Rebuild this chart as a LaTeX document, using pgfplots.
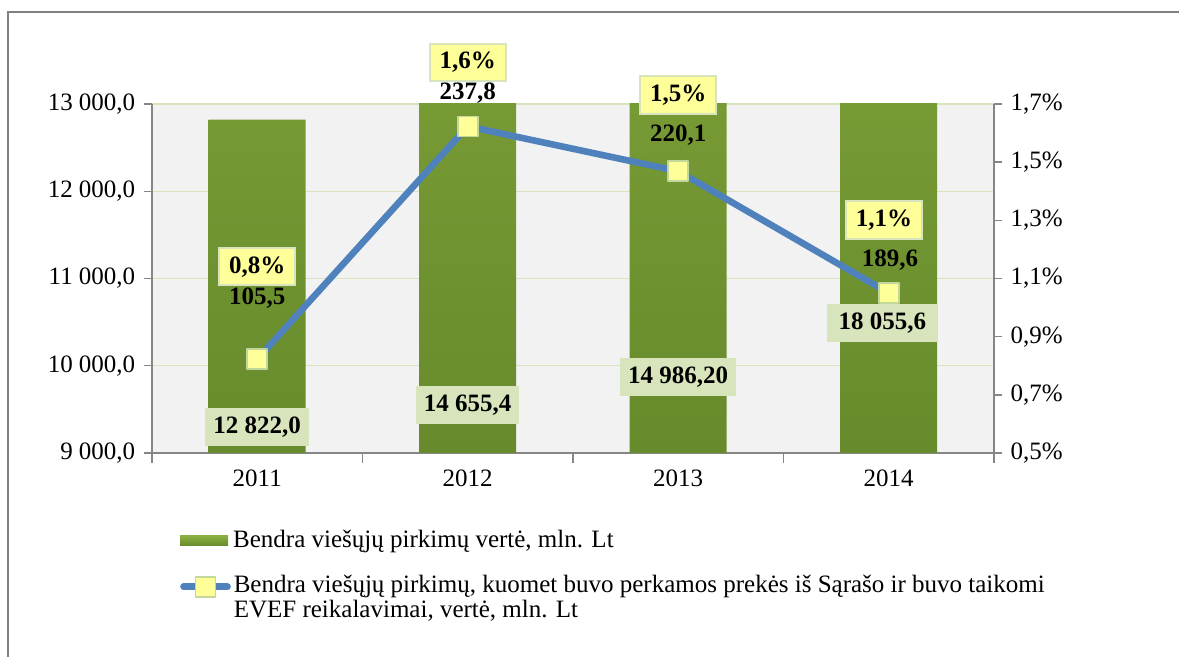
\documentclass[border=0pt]{standalone}
\usepackage{pgfplots}
\pgfplotsset{compat=1.18}
\usepackage{fontspec}
\setmainfont{Liberation Serif}
\definecolor{bggray}{HTML}{F2F2F2}
\definecolor{gridgreen}{HTML}{D7E4BD}
\definecolor{axisgray}{HTML}{868686}
\definecolor{lineblue}{HTML}{4F81BD}
\definecolor{markyellow}{HTML}{FFFF99}
\definecolor{markedge}{HTML}{C3D69B}
\definecolor{labelgreen}{HTML}{D8E4BC}
\definecolor{bartop}{HTML}{8AAE3F}
\definecolor{barbot}{HTML}{678A2C}
\definecolor{framegray}{HTML}{808080}
\begin{document}
\fontsize{12.5}{12.5}\selectfont
\begin{tikzpicture}
\useasboundingbox (0,0) rectangle (589.5pt,328.5pt);
\draw[framegray, line width=1pt] (4pt,0) -- (4pt,322.5pt) -- (589.5pt,322.5pt);

\begin{axis}[
  at={(76pt,102pt)}, anchor=south west,
  scale only axis, width=421pt, height=174.5pt,
  xmin=-0.5, xmax=3.5, ymin=9000, ymax=13000,
  scaled y ticks=false,
  axis x line*=bottom, axis y line*=left,
  axis line style={axisgray, line width=0.7pt},
  axis background/.style={fill=bggray},
  ytick={9000,10000,11000,12000,13000},
  yticklabels={{9 000,0},{10 000,0},{11 000,0},{12 000,0},{13 000,0}},
  ymajorgrids, grid style={gridgreen, line width=0.7pt},
  xtick={0,1,2,3}, xticklabels={2011,2012,2013,2014},
  minor xtick={-0.5,0.5,1.5,2.5,3.5},
  tick align=outside,
  major x tick style={draw=none},
  minor x tick style={axisgray, line width=0.7pt},
  minor tick length=5pt,
  y tick style={axisgray, line width=0.7pt},
  major tick length=4pt,
  legend style={at={(axis description cs:0.033,-0.2521)}, anchor=west,
    draw=none, fill=none, inner sep=0pt, nodes={inner sep=0pt},
    cells={anchor=west},
    /tikz/every odd column/.append style={column sep=2.5pt}},
]
\addplot[ybar, bar width=48.5pt, draw=none, top color=bartop, bottom color=barbot,
  legend image code/.code={
    \fill[top color=bartop, bottom color=barbot] (0pt,-2.5pt) rectangle (24pt,2.5pt);}]
  coordinates {(0,12822.0) (1,14655.4) (2,14986.2) (3,18055.6)};
\addlegendentry{Bendra viešųjų pirkimų vertė, mln. Lt}
\node[fill=labelgreen, font=\bfseries, inner xsep=4pt, minimum height=15pt] at (axis cs:0,9298) {12 822,0};
\node[fill=labelgreen, font=\bfseries, inner xsep=4pt, minimum height=15pt] at (axis cs:1,9550) {14 655,4};
\node[fill=labelgreen, font=\bfseries, inner xsep=4pt, minimum height=15pt] at (axis cs:2,9871) {14 986,20};
\node[fill=labelgreen, font=\bfseries, inner xsep=6pt, minimum height=15pt] at (axis cs:2.97,10490) {18 055,6};
\end{axis}

\begin{axis}[
  at={(76pt,102pt)}, anchor=south west,
  scale only axis, width=421pt, height=174.5pt,
  xmin=-0.5, xmax=3.5, ymin=0.5, ymax=1.7,
  axis x line=none, axis y line*=right,
  axis line style={axisgray, line width=0.7pt},
  ytick={0.5,0.7,0.9,1.1,1.3,1.5,1.7},
  yticklabels={{0,5\%},{0,7\%},{0,9\%},{1,1\%},{1,3\%},{1,5\%},{1,7\%}},
  tick align=outside, major tick length=4pt,
  y tick style={axisgray, line width=0.7pt},
  clip=false,
  legend style={at={(axis description cs:0.033,-0.3496)}, anchor=north west,
    draw=none, fill=none, inner sep=0pt, nodes={inner sep=0pt},
    cells={anchor=base west},
    /tikz/every odd column/.append style={column sep=1.5pt}},
]
\addplot[lineblue, line width=3.3pt, line join=round, mark=square*, mark size=5pt,
  mark options={fill=markyellow, draw=markedge, line width=0.8pt},
  legend image code/.code={
    \draw[line cap=round, mark repeat=2, mark phase=2] plot coordinates {(0pt,3pt) (11pt,3pt) (22pt,3pt)};}]
  coordinates {(0,0.823) (1,1.623) (2,1.469) (3,1.050)};
\addlegendentry{\parbox[t]{480pt}{\raggedright Bendra viešųjų pirkimų, kuomet buvo perkamos prekės iš Sąrašo ir buvo taikomi\\EVEF reikalavimai, vertė, mln. Lt}}
\node[font=\bfseries] at (axis cs:0,1.033) {105,5};
\node[font=\bfseries, fill=markyellow, draw=gridgreen, line width=1pt, inner xsep=5pt, minimum height=14.5pt] at (axis cs:0,1.140) {0,8\%};
\node[font=\bfseries] at (axis cs:1,1.738) {237,8};
\node[font=\bfseries, fill=markyellow, draw=gridgreen, line width=1pt, inner xsep=5pt, minimum height=14.5pt] at (axis cs:1,1.844) {1,6\%};
\node[font=\bfseries] at (axis cs:2,1.593) {220,1};
\node[font=\bfseries, fill=markyellow, draw=gridgreen, line width=1pt, inner xsep=5pt, minimum height=14.5pt] at (axis cs:2,1.731) {1,5\%};
\node[font=\bfseries] at (axis cs:3.006,1.164) {189,6};
\node[font=\bfseries, fill=markyellow, draw=gridgreen, line width=1pt, inner xsep=5pt, minimum height=14.5pt] at (axis cs:2.977,1.301) {1,1\%};
\end{axis}
\end{tikzpicture}
\end{document}
